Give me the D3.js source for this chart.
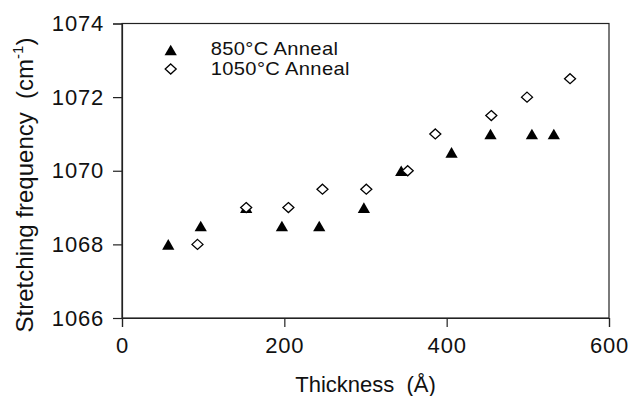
<!DOCTYPE html>
<html>
<head>
<meta charset="utf-8">
<script src="https://cdn.jsdelivr.net/npm/d3@7"></script>
<style>
  body { margin: 0; background: #fff; }
  text { font-family: "Liberation Sans", Arial, sans-serif; fill: #111; white-space: pre; }
</style>
</head>
<body>
<div id="chart"></div>
<script>
// 850°C anneal (filled triangles)
const thick850 = [57, 97, 153, 197, 243, 298, 344, 406, 454, 505, 532];
const freq850 = [1068, 1068.5, 1069, 1068.5, 1068.5, 1069, 1070, 1070.5, 1071, 1071, 1071];
// 1050°C anneal (open diamonds)
const thick1050 = [93, 153, 205, 247, 301, 352, 386, 455, 499, 552];
const freq1050 = [1068, 1069, 1069, 1069.5, 1069.5, 1070, 1071, 1071.5, 1072, 1072.5];

const xTicks = [0, 200, 400, 600];
const yTicks = [1066, 1068, 1070, 1072, 1074];
const legendLabels = ['850°C Anneal', '1050°C Anneal'];

const margin = { top: 23.5, right: 22, bottom: 78, left: 122 };
const width = 631 - margin.left - margin.right;
const height = 396 - margin.top - margin.bottom;

const x = d3.scaleLinear().domain([0, 600]).range([0, width]);
const y = d3.scaleLinear().domain([1066, 1074]).range([height, 0]);

const svg = d3.select('#chart')
  .append('svg')
  .attr('width', 631)
  .attr('height', 396)
  .append('g')
  .attr('transform', `translate(${margin.left},${margin.top})`);

// frame
svg.append('rect')
  .attr('width', width)
  .attr('height', height)
  .attr('fill', 'none')
  .attr('stroke', '#222')
  .attr('stroke-width', 1.2);

const xAxis = svg.append('g')
  .attr('transform', `translate(0,${height})`)
  .call(d3.axisBottom(x).tickValues(xTicks).tickSize(9).tickPadding(10).tickFormat(d3.format('d')));

const yAxis = svg.append('g')
  .call(d3.axisLeft(y).tickValues(yTicks).tickSize(9).tickPadding(9).tickFormat(d3.format('d')));

[xAxis, yAxis].forEach(a => {
  a.select('.domain').attr('stroke', '#222').attr('stroke-width', 1.2);
  a.selectAll('.tick line').attr('stroke', '#222').attr('stroke-width', 1.2);
  a.selectAll('.tick text')
    .style('font-family', '"Liberation Sans", Arial, sans-serif')
    .style('font-size', '22px')
    .style('letter-spacing', '0.8px')
    .attr('fill', '#111');
});

// axis titles
svg.append('text')
  .attr('x', width / 2)
  .attr('y', height + 74)
  .attr('text-anchor', 'middle')
  .style('font-size', '22px')
  .text('Thickness  (Å)');

const yt = svg.append('text')
  .attr('transform', `translate(-89,${185 - margin.top}) rotate(-90)`)
  .attr('text-anchor', 'middle')
  .style('font-size', '24px');
yt.append('tspan').text('Stretching frequency  (cm');
yt.append('tspan').attr('dy', -10).style('font-size', '15px').text('-1');
yt.append('tspan').attr('dy', 10).text(')');

const tri = d3.symbol().type(d3.symbolTriangle).size(65);
const dia = 'M0,-5L5.5,0L0,5L-5.5,0Z';

const data850 = thick850.map((t, i) => ({ t, f: freq850[i] }));
const data1050 = thick1050.map((t, i) => ({ t, f: freq1050[i] }));

svg.selectAll('.tri')
  .data(data850)
  .enter()
  .append('path')
  .attr('class', 'tri')
  .attr('d', tri)
  .attr('transform', d => `translate(${x(d.t)},${y(d.f) + 1.8})`)
  .attr('fill', '#000');

svg.selectAll('.dia')
  .data(data1050)
  .enter()
  .append('path')
  .attr('class', 'dia')
  .attr('d', dia)
  .attr('transform', d => `translate(${x(d.t)},${y(d.f)})`)
  .attr('fill', '#fff')
  .attr('stroke', '#000')
  .attr('stroke-width', 1.3);

// legend
const legend = svg.append('g').attr('transform', `translate(${170.7 - margin.left},0)`);
legend.append('path').attr('d', tri).attr('transform', 'translate(0,28.3)').attr('fill', '#000');
legend.append('path').attr('d', dia)
  .attr('transform', 'translate(0,45.5)')
  .attr('fill', '#fff').attr('stroke', '#000').attr('stroke-width', 1.3);
legend.selectAll('.lab')
  .data(legendLabels)
  .enter()
  .append('text')
  .attr('class', 'lab')
  .attr('transform', (d, i) => `translate(40,${31 + i * 20}) scale(1.12,1)`)
  .style('font-size', '18px')
  .style('letter-spacing', '0.3px')
  .text(d => d);
</script>
</body>
</html>
